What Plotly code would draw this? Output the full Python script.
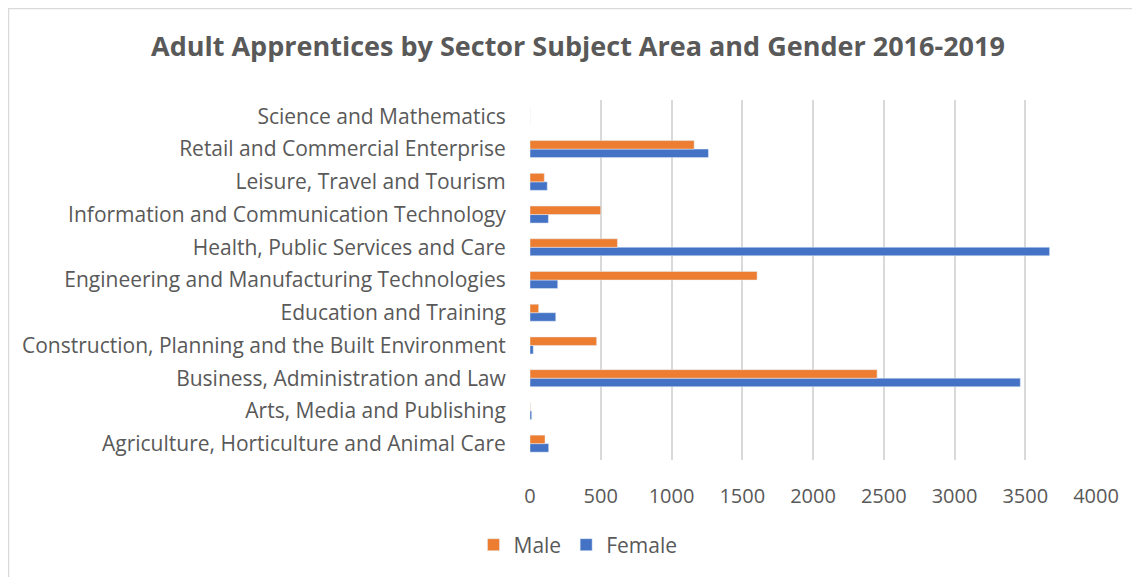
import plotly.graph_objects as go

# ── data ─────────────────────────────────────────────
sectors = [
    "Agriculture, Horticulture and Animal Care",
    "Arts, Media and Publishing",
    "Business, Administration and Law",
    "Construction, Planning and the Built Environment",
    "Education and Training",
    "Engineering and Manufacturing Technologies",
    "Health, Public Services and Care",
    "Information and Communication Technology",
    "Leisure, Travel and Tourism",
    "Retail and Commercial Enterprise",
    "Science and Mathematics",
]
male = [106, 2, 2453, 471, 61, 1605, 618, 500, 101, 1160, 0]
female = [132, 12, 3465, 23, 182, 196, 3672, 130, 122, 1261, 0]
x_ticks = [0, 500, 1000, 1500, 2000, 2500, 3000, 3500, 4000]

# page body adds 8px top/left, so the figure is drawn 8px smaller and shifted
OFF = 8
W, H = 1140 - OFF, 577 - OFF
ML, MR, MT, MB = 530 - OFF, 44, 100 - OFF, 117
TXT = "#595959"
FONT = "Open Sans"

fig = go.Figure()
fig.add_trace(go.Bar(y=sectors, x=female, name="Female", orientation="h",
                     marker=dict(color="#4472C4")))
fig.add_trace(go.Bar(y=sectors, x=male, name="Male", orientation="h",
                     marker=dict(color="#ED7D31")))

fig.update_layout(
    width=W, height=H,
    margin=dict(l=ML, r=MR, t=MT, b=MB),
    paper_bgcolor="white", plot_bgcolor="white",
    barmode="group", bargap=0.48, bargroupgap=0,
    font=dict(family=FONT, color=TXT, size=21),
    title=dict(text="<b>Adult Apprentices by Sector Subject Area and Gender 2016-2019</b>",
               xref="container", x=(578 - OFF) / W, xanchor="center",
               yref="container", y=1 - (47 - OFF) / H, yanchor="middle",
               font=dict(size=27, color=TXT, family=FONT)),
    legend=dict(orientation="h", traceorder="reversed",
                xref="container", x=(578 - OFF) / W, xanchor="center",
                yref="container", y=1 - (545 - OFF) / H, yanchor="middle",
                font=dict(size=21, color=TXT)),
    showlegend=True,
)
fig.update_xaxes(range=[0, 4000], tickvals=x_ticks, showgrid=True,
                 gridcolor="#D9D9D9", gridwidth=1.5, zeroline=False,
                 showline=False, ticks="outside", ticklen=18, automargin=False,
                 tickcolor="rgba(0,0,0,0)", tickfont=dict(size=20, color=TXT))
fig.update_yaxes(type="category", categoryorder="array", categoryarray=sectors,
                 range=[-0.5, len(sectors) - 0.5], showgrid=False, automargin=False,
                 ticks="outside", ticklen=19, tickcolor="rgba(0,0,0,0)",
                 tickfont=dict(size=21, color=TXT), showline=False)

# outer chart frame (left and top edges only show in the picture)
pw, ph = W - ML - MR, H - MT - MB
def px_x(p):
    return (p - OFF - ML) / pw
def px_y(p):
    return (H - MB - (p - OFF)) / ph
fig.add_shape(type="rect", xref="paper", yref="paper",
              x0=px_x(8.5), x1=px_x(1160), y0=px_y(600), y1=px_y(8.5),
              line=dict(color="#D9D9D9", width=1.5), fillcolor="rgba(0,0,0,0)",
              layer="below")

fig.write_html("out.html")
